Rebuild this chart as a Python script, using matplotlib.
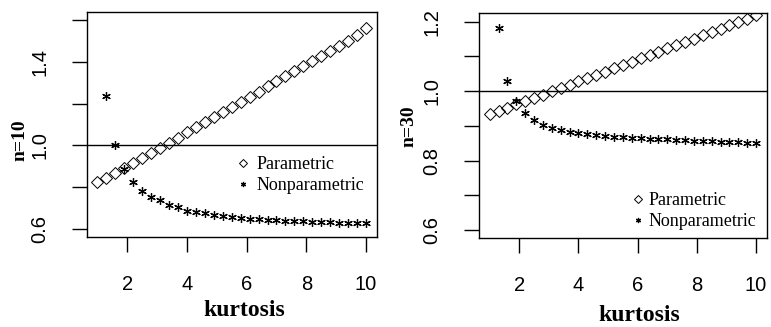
import matplotlib
matplotlib.use("Agg")
import matplotlib.pyplot as plt

# ----------------------------
# Data
# ----------------------------
kurt_param = [1.0, 1.3, 1.6, 1.9, 2.2, 2.5, 2.8, 3.1, 3.4, 3.7, 4.0, 4.3, 4.6, 4.9, 5.2, 5.5,
              5.8, 6.1, 6.4, 6.7, 7.0, 7.3, 7.6, 7.9, 8.2, 8.5, 8.8, 9.1, 9.4, 9.7, 10.0]
kurt_nonpar = kurt_param[1:]

param_n10 = [0.823, 0.846, 0.869, 0.893, 0.917, 0.941, 0.965, 0.989, 1.013, 1.037, 1.062,
             1.086, 1.110, 1.135, 1.159, 1.184, 1.208, 1.233, 1.257, 1.282, 1.306, 1.331,
             1.355, 1.380, 1.404, 1.429, 1.453, 1.478, 1.502, 1.527, 1.560]
nonpar_n10 = [1.236, 1.000, 0.888, 0.823, 0.783, 0.751, 0.738, 0.716, 0.703, 0.688, 0.681,
              0.675, 0.669, 0.664, 0.659, 0.654, 0.650, 0.647, 0.644, 0.642, 0.640, 0.638,
              0.636, 0.634, 0.633, 0.632, 0.630, 0.629, 0.628, 0.627]

param_n30 = [0.934, 0.943, 0.952, 0.962, 0.971, 0.980, 0.990, 0.999, 1.009, 1.018, 1.028,
             1.037, 1.047, 1.056, 1.066, 1.075, 1.085, 1.094, 1.104, 1.113, 1.123, 1.132,
             1.142, 1.151, 1.161, 1.170, 1.180, 1.189, 1.199, 1.208, 1.218]
nonpar_n30 = [1.181, 1.028, 0.971, 0.938, 0.918, 0.903, 0.894, 0.889, 0.882, 0.878, 0.876,
              0.874, 0.871, 0.869, 0.867, 0.866, 0.865, 0.863, 0.862, 0.861, 0.860, 0.858,
              0.857, 0.856, 0.855, 0.854, 0.853, 0.853, 0.851, 0.850]

xticks = [2, 4, 6, 8, 10]
yticks_n10 = [0.6, 0.8, 1.0, 1.2, 1.4, 1.6]
ylabels_n10 = ["0.6", "", "1.0", "", "1.4", ""]
yticks_n30 = [0.6, 0.7, 0.8, 0.9, 1.0, 1.1, 1.2]
ylabels_n30 = ["0.6", "", "0.8", "", "1.0", "", "1.2"]

SANS = "Liberation Sans"
SERIF = "Liberation Serif"

fig = plt.figure(figsize=(7.71, 3.27), dpi=100)
ax1 = fig.add_axes([0.1125, 0.2743, 0.3761, 0.690])
ax2 = fig.add_axes([0.6213, 0.2713, 0.3732, 0.688])

panels = [
    (ax1, param_n10, nonpar_n10, (0.6, 1.6), yticks_n10, ylabels_n10, "n=10",
     (0.509, 0.275), 0.25, (0.542, -0.28), (-0.200, 0.432)),
    (ax2, param_n30, nonpar_n30, (0.6, 1.2), yticks_n30, ylabels_n30, "n=30",
     (0.520, 0.12), 0.12, (0.556, -0.295), (-0.215, 0.499)),
]

for ax, par, nonpar, ylim, yt, ylab, name, leg_xy, tpad, xl_xy, yl_xy in panels:
    ax.plot(kurt_param, par, linestyle="none", marker="D", markersize=6.3,
            markerfacecolor="none", markeredgecolor="black", markeredgewidth=0.7,
            label="Parametric")
    ax.plot(kurt_nonpar, nonpar, linestyle="none", marker=(6, 2, 0), markersize=6.2,
            color="black", markeredgewidth=0.9, label="Nonparametric")
    ax.axhline(1.0, color="black", linewidth=1.0)

    # R style axis ranges: limits plus 4%
    r = 10.0 - 1.0
    ax.set_xlim(1.0 - 0.04 * r, 10.0 + 0.04 * r)
    yr = ylim[1] - ylim[0]
    ax.set_ylim(ylim[0] - 0.04 * yr, ylim[1] + 0.04 * yr)

    ax.set_xticks(xticks)
    ax.set_xticklabels([str(t) for t in xticks], fontsize=14.5, family=SANS)
    ax.set_yticks(yt)
    ax.set_yticklabels(ylab, fontsize=14.5, family=SANS, rotation=90, va="center")
    ax.tick_params(length=11, width=1.0, direction="out", pad=16, color="black")

    for s in ax.spines.values():
        s.set_linewidth(1.0)
        s.set_color("black")

    ax.set_xlabel("kurtosis", fontsize=17, family=SERIF, fontweight="bold")
    ax.xaxis.set_label_coords(*xl_xy)
    ax.set_ylabel(name, fontsize=14, family=SERIF, fontweight="bold")
    ax.yaxis.set_label_coords(*yl_xy)

    ax.legend(loc="center left", bbox_to_anchor=leg_xy, frameon=False,
              prop={"family": SERIF, "size": 13}, markerscale=0.6,
              handlelength=1.0, handletextpad=tpad, labelspacing=0.2,
              borderpad=0, borderaxespad=0)

fig.savefig("out.png", dpi=100)
